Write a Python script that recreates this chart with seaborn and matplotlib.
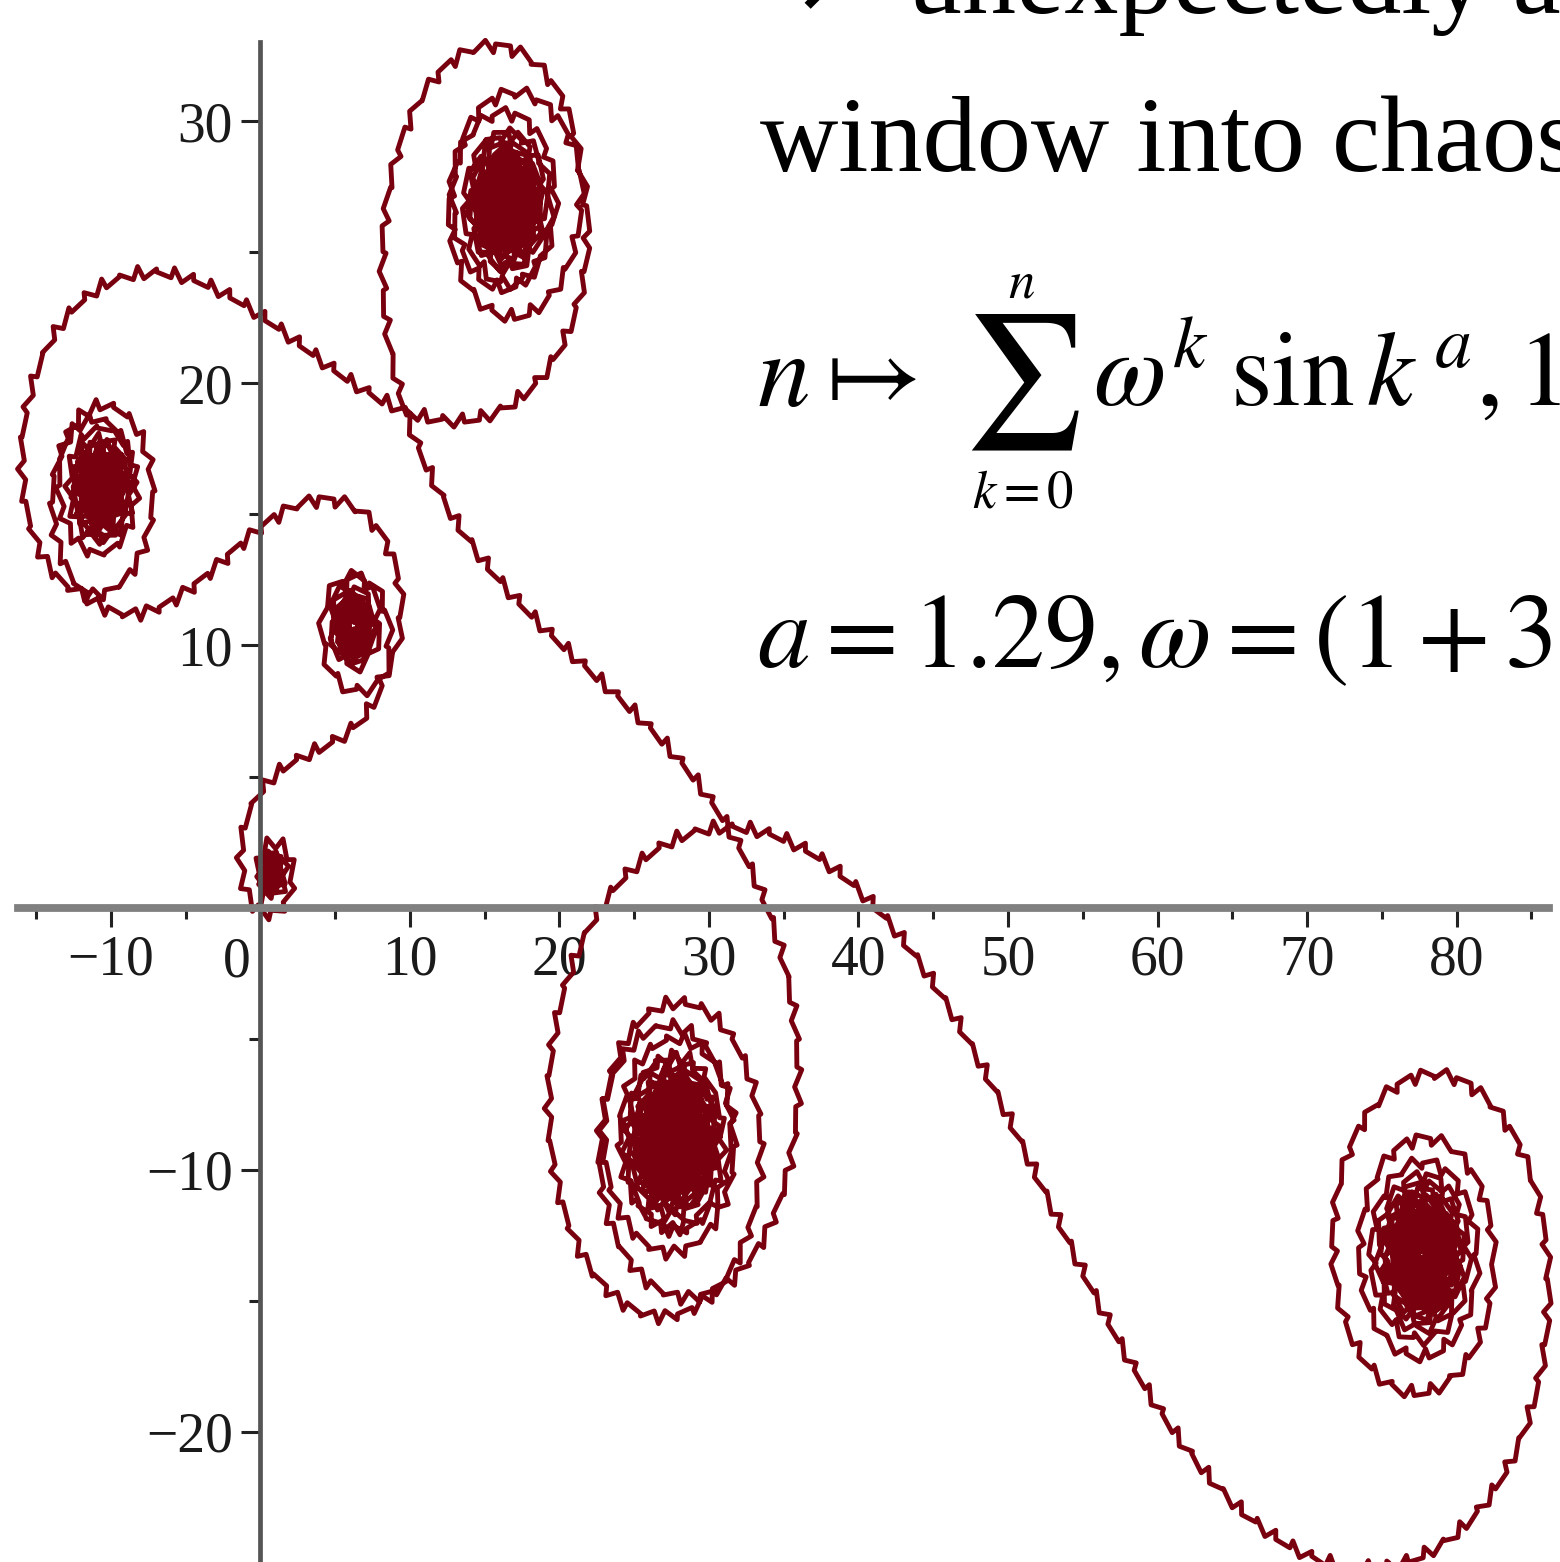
import numpy as np
import pandas as pd
import matplotlib
matplotlib.use("Agg")
import matplotlib.pyplot as plt
import seaborn as sns
from matplotlib.ticker import FixedLocator

# Parameters of the exponential sum  n -> sum_{k=0}^{n} w^k sin(k^a)
a_exp = 1.29
w_re, w_im = 1.0, 3.0
n_terms = 10000

# Axis tick values
x_major = [-10, 10, 20, 30, 40, 50, 60, 70, 80]
x_labels = ["\u221210", "10", "20", "30", "40", "50", "60", "70", "80"]
x_minor = [-15, -5, 5, 15, 25, 35, 45, 55, 65, 75, 85]
y_major = [-20, -10, 10, 20, 30]
y_labels = ["\u221220", "\u221210", "10", "20", "30"]
y_minor = [-25, -15, -5, 5, 15, 25]

# Partial sums of the series
k = np.arange(0, n_terms + 1, dtype=float)
omega = complex(w_re, w_im) / abs(complex(w_re, w_im))
terms = omega ** k * np.sin(k ** a_exp)
partial = np.cumsum(terms)
df = pd.DataFrame({"re": partial.real, "im": partial.imag, "n": k})

sns.set_theme(style="white")
plt.rcParams["mathtext.fontset"] = "stix"
plt.rcParams["text.color"] = "black"

fig = plt.figure(figsize=(15.6, 15.62), dpi=100)
ax = fig.add_axes([0, 0, 1, 1])

sns.lineplot(data=df, x="re", y="im", sort=False, estimator=None,
             color="#78000f", linewidth=3.5, ax=ax)

ax.set_xlim(-17.42, 86.92)
ax.set_ylim(-24.96, 34.62)
ax.set_xlabel("")
ax.set_ylabel("")

# Axes through the origin
for s in ("top", "right"):
    ax.spines[s].set_visible(False)
ax.spines["bottom"].set_position(("data", 0))
ax.spines["left"].set_position(("data", 0))
ax.spines["bottom"].set_bounds(-16.2, 86.2)
ax.spines["left"].set_bounds(-25, 33.0)
ax.spines["bottom"].set_color("#808080")
ax.spines["bottom"].set_linewidth(5.6)
ax.spines["left"].set_color("#555555")
ax.spines["left"].set_linewidth(3.4)

tick_font = {"family": "Liberation Serif", "size": 40}
ax.xaxis.set_major_locator(FixedLocator(x_major))
ax.set_xticklabels(x_labels, fontdict=tick_font)
ax.yaxis.set_major_locator(FixedLocator(y_major))
ax.set_yticklabels(y_labels, fontdict=tick_font)
ax.xaxis.set_minor_locator(FixedLocator(x_minor))
ax.yaxis.set_minor_locator(FixedLocator(y_minor))
ax.tick_params(axis="both", which="both", bottom=True, left=True,
               top=False, right=False, direction="out")
ax.tick_params(axis="both", which="major", length=14, width=2.2,
               color="#222222", labelcolor="#1a1a1a")
ax.tick_params(axis="both", which="minor", length=8, width=2.2,
               color="#222222")
ax.tick_params(axis="x", which="major", pad=5)
ax.tick_params(axis="y", which="major", pad=6)
ax.text(-1.6, -1.1, "0", ha="center", va="top", color="#1a1a1a",
        fontdict=tick_font)

# Slide text beside the plot
serif = ["Liberation Serif", "DejaVu Serif", "DejaVu Sans"]
fig.text(790 / 1560, 1 - 13 / 1562, "\u2197 unexpectedly ar", family=serif,
         fontsize=78, va="baseline", ha="left")
fig.text(760 / 1560, 1 - 171 / 1562, "window into chaos", family=serif,
         fontsize=78, va="baseline", ha="left")

fs = 76
fig.text(757 / 1560, 1 - 406 / 1562, r"$n\mapsto$", fontsize=fs,
         va="baseline", ha="left")
fig.text(1021 / 1560, 1 - 416 / 1562, r"$\sum$", fontsize=fs * 1.27,
         va="baseline", ha="center")
fig.text(1021 / 1560, 1 - 297 / 1562, r"$n$", fontsize=fs * 0.5,
         va="baseline", ha="center")
fig.text(1023 / 1560, 1 - 507 / 1562, r"$k=0$", fontsize=fs * 0.5,
         va="baseline", ha="center")
fig.text(1093 / 1560, 1 - 406 / 1562, r"$\omega^{k}\;\sin k^{\,a},1$",
         fontsize=fs, va="baseline", ha="left")
fig.text(757 / 1560, 1 - 667 / 1562, r"$a=1.29,\omega=(1+3i$",
         fontsize=fs, va="baseline", ha="left")

fig.savefig("out.png", dpi=100)
